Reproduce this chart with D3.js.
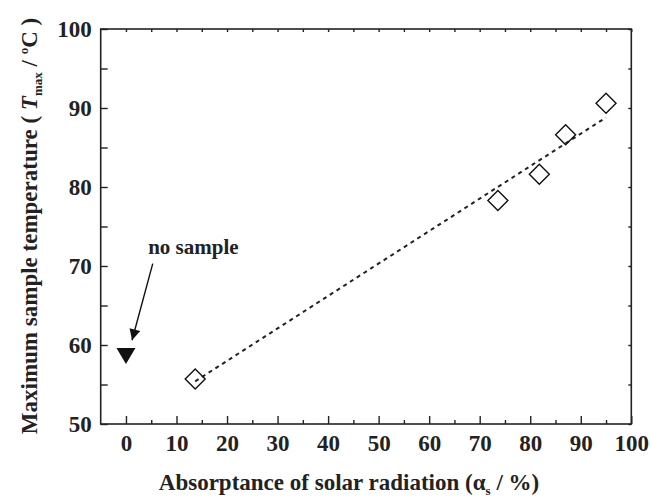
<!DOCTYPE html>
<html>
<head>
<meta charset="utf-8">
<script src="https://cdn.jsdelivr.net/npm/d3@7"></script>
<style>
  html, body { margin: 0; padding: 0; background: #fff; }
  svg { display: block; }
  text { font-family: "Liberation Serif", "Times New Roman", serif; font-weight: bold; fill: #222; }
</style>
</head>
<body>
<svg id="chart" width="651" height="498"></svg>
<script>
// ---- data ----
const absorptance = [13.7, 73.6, 81.8, 87.0, 95.0];   // alpha_s (%)
const tmax        = [55.7, 78.3, 81.6, 86.6, 90.6];   // T_max (°C)
const noSampleX   = [0];
const noSampleY   = [58.6];
const fitX        = [13.7, 95.0];
const fitY        = [55.4, 88.8];
const xTicks      = [0, 10, 20, 30, 40, 50, 60, 70, 80, 90, 100];
const yTicks      = [50, 60, 70, 80, 90, 100];
const xMinor      = [5, 15, 25, 35, 45, 55, 65, 75, 85, 95];
const yMinor      = [55, 65, 75, 85, 95];
const annotText   = "no sample";
const annotPos    = [4.4, 71.5];
const arrowFrom   = [5.3, 70.3];
const arrowTo     = [1.2, 60.6];

// ---- layout ----
const svg = d3.select("#chart");
const L = 100.7, R = 631.3, T = 29, B = 424;
const x = d3.scaleLinear().domain([-5, 100]).range([L, R]);
const y = d3.scaleLinear().domain([50, 100]).range([B, T]);
const axisColor = "#222";
const tickFont = 23;

// frame
svg.append("rect").attr("x", L).attr("y", T).attr("width", R - L).attr("height", B - T)
  .attr("fill", "none").attr("stroke", axisColor).attr("stroke-width", 1.6);

// bottom axis (inward ticks)
const bottom = svg.append("g").attr("transform", `translate(0,${B})`)
  .call(d3.axisBottom(x).tickValues(xTicks).tickSizeInner(-8).tickSizeOuter(0));
bottom.select(".domain").remove();
bottom.selectAll("line").attr("stroke", axisColor).attr("stroke-width", 1.4);
bottom.selectAll("text").attr("font-size", tickFont).attr("fill", "#222").attr("y", 27).attr("dy", 0)
  .style("font-family", '"Liberation Serif", serif').style("font-weight", "bold");
svg.append("g").attr("transform", `translate(0,${B})`)
  .call(d3.axisBottom(x).tickValues(xMinor).tickSizeInner(-4).tickSizeOuter(0).tickFormat(""))
  .call(g => g.select(".domain").remove())
  .selectAll("line").attr("stroke", axisColor).attr("stroke-width", 1.4);

// left axis
const left = svg.append("g").attr("transform", `translate(${L},0)`)
  .call(d3.axisLeft(y).tickValues(yTicks).tickSizeInner(-7).tickSizeOuter(0).tickPadding(9));
left.select(".domain").remove();
left.selectAll("line").attr("stroke", axisColor).attr("stroke-width", 1.4);
left.selectAll("text").attr("font-size", tickFont).attr("fill", "#222")
  .style("font-family", '"Liberation Serif", serif').style("font-weight", "bold");
svg.append("g").attr("transform", `translate(${L},0)`)
  .call(d3.axisLeft(y).tickValues(yMinor).tickSizeInner(-7).tickSizeOuter(0).tickFormat(""))
  .call(g => g.select(".domain").remove())
  .selectAll("line").attr("stroke", axisColor).attr("stroke-width", 1.4);

// top & right small ticks
svg.append("g").attr("transform", `translate(0,${T})`)
  .call(d3.axisTop(x).tickValues(xTicks.concat(xMinor)).tickSizeInner(-3).tickSizeOuter(0).tickFormat(""))
  .call(g => g.select(".domain").remove())
  .selectAll("line").attr("stroke", axisColor).attr("stroke-width", 1.4);
svg.append("g").attr("transform", `translate(${R},0)`)
  .call(d3.axisRight(y).tickValues(yTicks.concat(yMinor)).tickSizeInner(-3).tickSizeOuter(0).tickFormat(""))
  .call(g => g.select(".domain").remove())
  .selectAll("line").attr("stroke", axisColor).attr("stroke-width", 1.4);

// fit line (dashed)
const line = d3.line().x(d => x(d[0])).y(d => y(d[1]));
svg.append("path").datum(d3.zip(fitX, fitY)).attr("d", line)
  .attr("fill", "none").attr("stroke", "#222").attr("stroke-width", 2)
  .attr("stroke-dasharray", "4,4");

// diamonds
const dHalf = 10;
svg.append("g").selectAll("path").data(d3.zip(absorptance, tmax)).join("path")
  .attr("d", d => {
    const cx = x(d[0]), cy = y(d[1]);
    return `M${cx},${cy - dHalf}L${cx + dHalf},${cy}L${cx},${cy + dHalf}L${cx - dHalf},${cy}Z`;
  })
  .attr("fill", "none").attr("stroke", "#111").attr("stroke-width", 1.4);

// no-sample downward triangle
svg.append("g").selectAll("path").data(d3.zip(noSampleX, noSampleY)).join("path")
  .attr("d", d => {
    const cx = x(d[0]), cy = y(d[1]);
    return `M${cx - 9.5},${cy - 8}L${cx + 9.5},${cy - 8}L${cx},${cy + 8}Z`;
  })
  .attr("fill", "#111");

// annotation
svg.append("text").attr("x", x(annotPos[0])).attr("y", y(annotPos[1]))
  .attr("font-size", 21).text(annotText);
const defs = svg.append("defs");
defs.append("marker").attr("id", "arrowhead").attr("viewBox", "0 0 10 10")
  .attr("refX", 10).attr("refY", 5).attr("markerWidth", 13).attr("markerHeight", 11)
  .attr("markerUnits", "userSpaceOnUse").attr("orient", "auto")
  .append("path").attr("d", "M0,0L10,5L0,10Z").attr("fill", "#111");
svg.append("line")
  .attr("x1", x(arrowFrom[0])).attr("y1", y(arrowFrom[1]))
  .attr("x2", x(arrowTo[0])).attr("y2", y(arrowTo[1]))
  .attr("stroke", "#111").attr("stroke-width", 1.4).attr("marker-end", "url(#arrowhead)");

// x axis title
const xt = svg.append("text").attr("x", 349).attr("y", 490)
  .attr("text-anchor", "middle").attr("font-size", 23);
xt.append("tspan").text("Absorptance of solar radiation (α");
xt.append("tspan").attr("font-size", 13).attr("dy", 5).text("s");
xt.append("tspan").attr("dy", -5).text(" / %)");

// y axis title
const yt = svg.append("text").attr("transform", `translate(37,226) rotate(-90)`)
  .attr("text-anchor", "middle").attr("font-size", 23);
yt.append("tspan").text("Maximum sample temperature ( ");
yt.append("tspan").attr("font-style", "italic").text("T");
yt.append("tspan").attr("font-size", 13).attr("dy", 5).text("max");
yt.append("tspan").attr("dy", -5).text(" / ");
yt.append("tspan").attr("font-size", 13).attr("dy", -9).text("o");
yt.append("tspan").attr("dy", 9).text("C )");
</script>
</body>
</html>
